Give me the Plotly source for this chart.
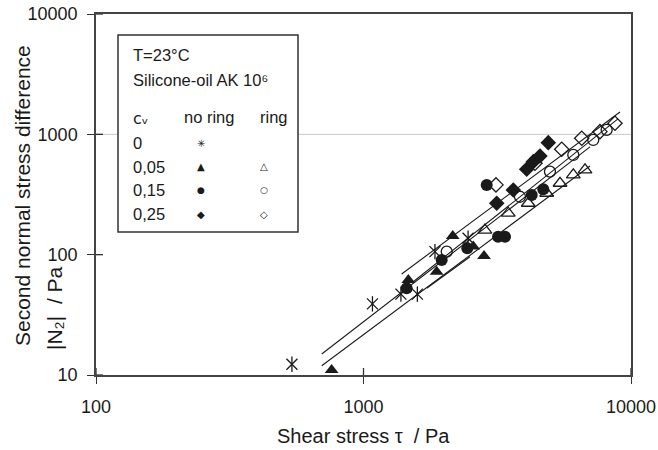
import plotly.graph_objects as go

# ---------------- data ----------------
# cv = 0, no ring (star)
star_x = [540, 1080, 1380, 1590, 1850, 2460]
star_y = [12.3, 39, 47, 47, 106, 137]
# cv = 0.05, no ring (filled triangle)
tri_x = [760, 1471, 1877, 2156, 2573, 2822]
tri_y = [11.0, 61.6, 72.2, 143, 117, 97.5]
# cv = 0.15, no ring (filled circle)
circ_x = [1450, 1960, 2443, 2888, 3184, 3381, 4255, 4700]
circ_y = [52.6, 90.4, 113, 380, 141, 141, 313, 350]
# cv = 0.25, no ring (filled diamond)
dia_x = [3148, 3631, 4074, 4313, 4568, 4907]
dia_y = [267.5, 345, 513, 593, 661, 853]
# cv = 0.05, ring (open triangle)
otri_x = [2844, 3477, 4130, 4842, 5428, 6085, 6730]
otri_y = [160, 221, 267.5, 324, 392, 460, 506]
# cv = 0.15, ring (open circle)
ocirc_x = [2047, 3846, 4977, 6085, 7226, 8110]
ocirc_y = [106, 303, 490, 674, 898, 1088]
# cv = 0.25, ring (open diamond)
odia_x = [3128, 4375, 5508, 6543, 7655, 8712]
odia_y = [380, 575, 752, 928, 1053, 1236]

# fitted lines (start / end points)
fit_x_start = [698, 698, 1389, 1535, 1723]
fit_x_end = [7027, 7027, 9097, 8941, 2501]
fit_y_start = [14.95, 11.95, 69.1, 59.6, 52.6]
fit_y_end = [786, 546, 1535, 1343, 96.2]

x_ticks = [100, 1000, 10000]
y_ticks = [10, 100, 1000, 10000]

legend_cv = ["0", "0,05", "0,15", "0,25"]

# ---------------- figure ----------------
W, H = 658, 450
L, R, T, B = 96, 27, 14, 75
PW, PH = W - L - R, H - T - B
FONT = "Liberation Sans, Arial, sans-serif"
INK = "#1a1a1a"
TICK_IN = 7


def pxx(xp):
    return (xp - L) / PW


def pyy(yp):
    return (H - B - yp) / PH


fig = go.Figure()

for xs, xe, ys, ye in zip(fit_x_start, fit_x_end, fit_y_start, fit_y_end):
    fig.add_trace(go.Scatter(x=[xs, xe], y=[ys, ye], mode="lines",
                             line=dict(color=INK, width=1.1),
                             showlegend=False, hoverinfo="skip"))

mk_line = dict(color=INK, width=1.3)
fig.add_trace(go.Scatter(x=star_x, y=star_y, mode="markers",
                         marker=dict(symbol="x-thin-open", size=11, line=mk_line, color=INK)))
fig.add_trace(go.Scatter(x=star_x, y=star_y, mode="markers",
                         marker=dict(symbol="line-ns-open", size=11, line=mk_line, color=INK)))
fig.add_trace(go.Scatter(x=otri_x, y=otri_y, mode="markers",
                         marker=dict(symbol="triangle-up-open", size=12, line=mk_line, color=INK)))
fig.add_trace(go.Scatter(x=ocirc_x, y=ocirc_y, mode="markers",
                         marker=dict(symbol="circle-open", size=11, line=mk_line, color=INK)))
fig.add_trace(go.Scatter(x=odia_x, y=odia_y, mode="markers",
                         marker=dict(symbol="diamond-open", size=11, line=mk_line, color=INK)))
fig.add_trace(go.Scatter(x=tri_x, y=tri_y, mode="markers",
                         marker=dict(symbol="triangle-up", size=12, color=INK, line=dict(width=0))))
fig.add_trace(go.Scatter(x=circ_x, y=circ_y, mode="markers",
                         marker=dict(symbol="circle", size=12, color=INK, line=dict(width=0))))
fig.add_trace(go.Scatter(x=dia_x, y=dia_y, mode="markers",
                         marker=dict(symbol="diamond", size=12, color=INK, line=dict(width=0))))

axis_common = dict(type="log", showgrid=False, zeroline=False, automargin=False,
                   tickfont=dict(family=FONT, size=18, color=INK))

fig.update_layout(
    width=W, height=H,
    margin=dict(l=L, r=R, t=T, b=B),
    paper_bgcolor="white", plot_bgcolor="white",
    showlegend=False,
    font=dict(family=FONT, color=INK),
    xaxis=dict(**axis_common, range=[2, 4], tickvals=x_ticks,
               ticktext=[str(v) for v in x_ticks],
               showline=True, linecolor="#444", linewidth=1.5, mirror=True,
               ticks="outside", ticklen=7, tickwidth=1.3, tickcolor="#333",
               ticklabelstandoff=8),
    yaxis=dict(**axis_common, range=[1, 4], tickvals=y_ticks,
               ticktext=[str(v) for v in y_ticks],
               showline=True, linecolor="#444", linewidth=1.5, mirror=True,
               ticks="outside", ticklen=7, tickwidth=1.3, tickcolor="#333",
               ticklabelstandoff=6),
)

shapes = [
    dict(type="line", xref="paper", yref="y", x0=0, x1=1, y0=1000, y1=1000,
         line=dict(color="#c8c8c8", width=1), layer="below"),
    dict(type="rect", xref="paper", yref="paper",
         x0=pxx(118), x1=pxx(298), y0=pyy(232), y1=pyy(35),
         line=dict(color="#333", width=1.5), fillcolor="white", layer="above"),
]
# inner halves of the crossing tick marks
for v in x_ticks:
    shapes.append(dict(type="line", xref="x", yref="paper", x0=v, x1=v,
                       y0=0, y1=TICK_IN / PH, line=dict(color="#333", width=1.3)))
for v in y_ticks:
    shapes.append(dict(type="line", xref="paper", yref="y", y0=v, y1=v,
                       x0=0, x1=TICK_IN / PW, line=dict(color="#333", width=1.3)))
fig.update_layout(shapes=shapes)

ann = []
LF = 16.5


def text(xp, yp, s, size=LF, xanchor="left", angle=0, family=FONT):
    ann.append(dict(x=pxx(xp), y=pyy(yp), xref="paper", yref="paper",
                    text=s, showarrow=False, xanchor=xanchor, yanchor="middle",
                    textangle=angle,
                    font=dict(family=family, size=size, color=INK)))


text(131, 55, "T=23°C")
text(131, 80, "Silicone-oil AK 10⁶")
text(131, 118, "cᵥ", family="DejaVu Sans, " + FONT, size=16)
text(209, 117, "no ring", xanchor="center")
text(274, 117, "ring", xanchor="center")
row_y = [143, 167, 190, 214]
for lab, ry in zip(legend_cv, row_y):
    text(131, ry, lab)

# legend marker glyphs
GF = "DejaVu Sans"
sym_no_ring = ["✳", "▲", "●", "◆"]
sym_ring = ["", "△", "○", "◇"]
sym_size = [10, 10, 9, 10]
for sy, ry, sz in zip(sym_no_ring, row_y, sym_size):
    text(201, ry, sy, size=sz, xanchor="center", family=GF)
for sy, ry, sz in zip(sym_ring, row_y, sym_size):
    if sy:
        text(264, ry, sy, size=sz, xanchor="center", family=GF)

# axis titles
text(363, 436, "Shear stress τ\u00a0\u00a0/ Pa", size=20, xanchor="center")
text(22, 196, "Second normal stress difference", size=21, xanchor="center", angle=-90)
text(54, 308, "|N₂|\u00a0\u00a0/ Pa", size=21, xanchor="center", angle=-90)

fig.update_layout(annotations=ann)

fig.write_html("out.html")
